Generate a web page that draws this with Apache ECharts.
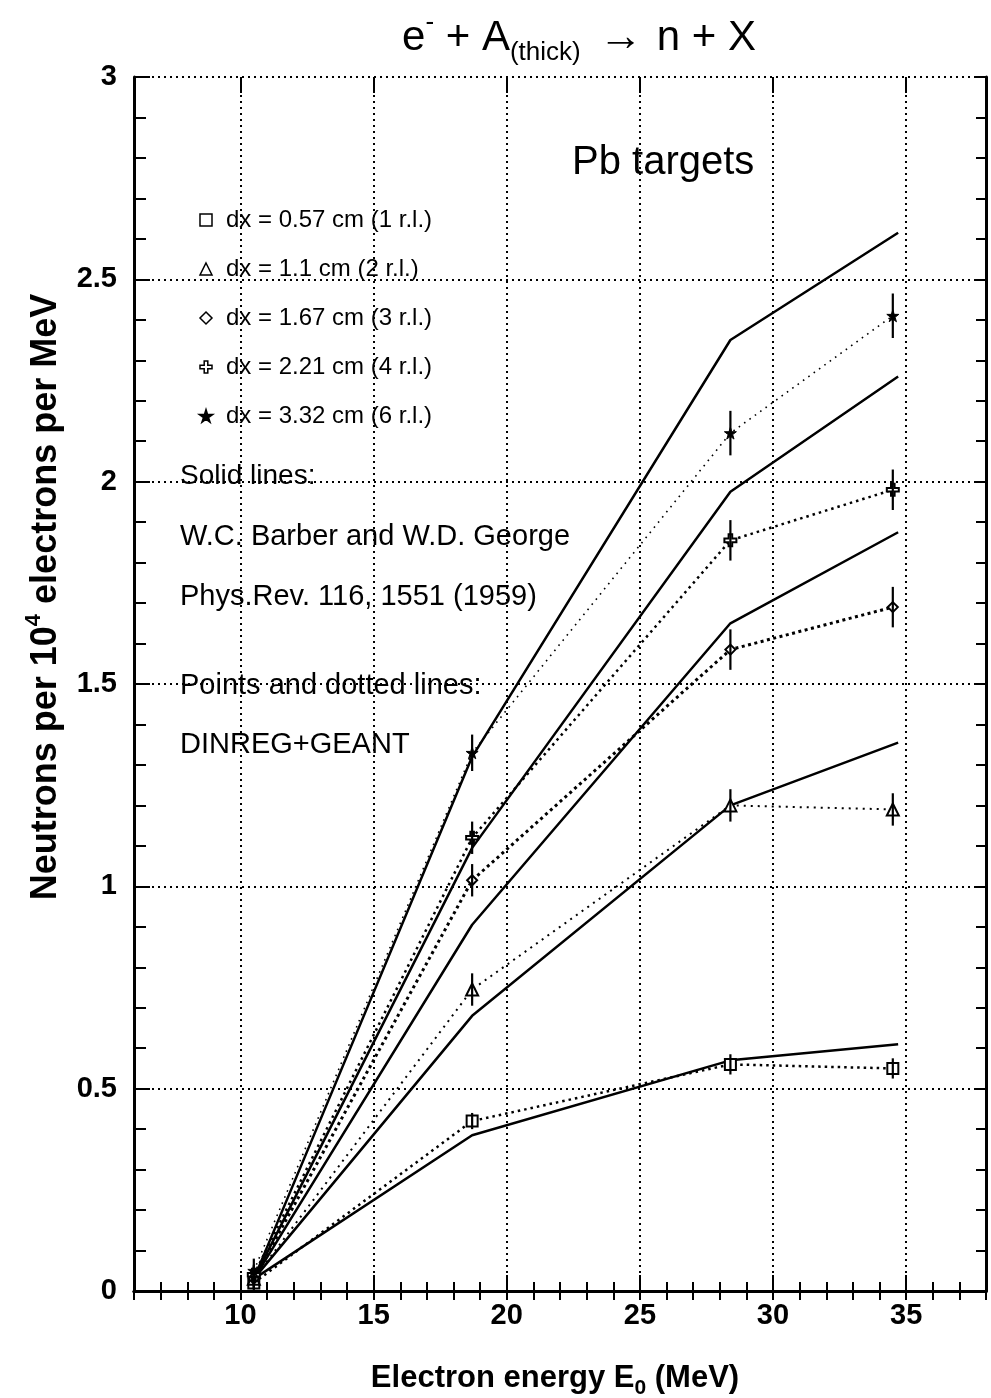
<!DOCTYPE html>
<html><head><meta charset="utf-8">
<script src="https://cdn.jsdelivr.net/npm/echarts@6/dist/echarts.min.js"></script>
<style>html,body{margin:0;padding:0;background:#fff}#c{width:991px;height:1398px}</style>
</head><body><div id="c"></div>
<script>
const FONT = "'Liberation Sans', Arial, Helvetica, sans-serif";

// ---- data ----
const legendNames = ['dx = 0.57 cm (1 r.l.)', 'dx = 1.1 cm (2 r.l.)', 'dx = 1.67 cm (3 r.l.)', 'dx = 2.21 cm (4 r.l.)', 'dx = 3.32 cm (6 r.l.)'];
// DINREG+GEANT points (dotted lines)
const simEnergy = [10.5, 18.7, 28.4, 34.5];
const sim1rl = [0.02, 0.42, 0.56, 0.55];
const sim2rl = [0.03, 0.745, 1.2, 1.19];
const sim3rl = [0.03, 1.015, 1.585, 1.69];
const sim4rl = [0.04, 1.12, 1.855, 1.98];
const sim6rl = [0.05, 1.33, 2.12, 2.41];
const err1rl = [0.01, 0.01, 0.015, 0.015];
const err2rl = [0.015, 0.03, 0.03, 0.03];
const err3rl = [0.015, 0.03, 0.04, 0.04];
const err4rl = [0.015, 0.03, 0.04, 0.04];
const err6rl = [0.02, 0.035, 0.045, 0.045];
// Barber & George (solid lines)
const expEnergy = [10.5, 18.7, 28.4, 34.7];
const exp1rl = [0.03, 0.385, 0.57, 0.61];
const exp2rl = [0.03, 0.68, 1.2, 1.355];
const exp3rl = [0.03, 0.905, 1.65, 1.875];
const exp4rl = [0.03, 1.095, 1.975, 2.26];
const exp6rl = [0.03, 1.32, 2.35, 2.615];
const majorX = [10, 15, 20, 25, 30, 35];

const STAR = 'path://M50,0 L61,35 L98,35 L68,57 L79,91 L50,70 L21,91 L32,57 L2,35 L39,35 Z';
const PLUS = 'path://M35,0 H65 V35 H100 V65 H65 V100 H35 V65 H0 V35 H35 Z';

const zip = (xs, ys) => xs.map((x, i) => [x, ys[i]]);

const solidSets = [exp1rl, exp2rl, exp3rl, exp4rl, exp6rl];
const simSets = [sim1rl, sim2rl, sim3rl, sim4rl, sim6rl];
const errSets = [err1rl, err2rl, err3rl, err4rl, err6rl];
const symbols = ['rect', 'triangle', 'diamond', PLUS, STAR];
const symSizes = [11, 12, 10, 12, 12];
const hollow = [true, true, true, true, false];
const dotStyles = [
  {width: 2.5, type: [2.5, 4]},
  {width: 2, type: [2, 5]},
  {width: 3, type: [3, 3.5]},
  {width: 2.5, type: [2.5, 4]},
  {width: 1.6, type: [1.6, 5]}
];

const series = [];
solidSets.forEach(s => {
  series.push({type: 'line', data: zip(expEnergy, s), symbol: 'none', silent: true,
    lineStyle: {color: '#000', width: 2.5}, z: 3});
});
simSets.forEach((s, i) => {
  series.push({type: 'line', name: legendNames[i], data: zip(simEnergy, s),
    symbol: symbols[i], symbolSize: symSizes[i], showSymbol: true,
    itemStyle: hollow[i] ? {color: '#fff', borderColor: '#000', borderWidth: 2} : {color: '#000', borderColor: '#000', borderWidth: 1},
    lineStyle: Object.assign({color: '#000'}, dotStyles[i]), z: 4});
});
const errData = [];
simSets.forEach((s, i) => s.forEach((v, j) => errData.push([simEnergy[j], v - errSets[i][j] - 0.01, v + errSets[i][j] + 0.01])));
series.push({type: 'custom', data: errData, z: 5, silent: true,
  renderItem: (params, api) => {
    const p1 = api.coord([api.value(0), api.value(1)]);
    const p2 = api.coord([api.value(0), api.value(2)]);
    return {type: 'line', shape: {x1: p1[0], y1: p1[1], x2: p2[0], y2: p2[1]}, style: {stroke: '#000', lineWidth: 2.2}};
  }});

const frame = {show: true, lineStyle: {color: '#000', width: 3}};
const tickStyle = {color: '#000', width: 2};

const option = {
  animation: false,
  backgroundColor: '#fff',
  grid: {left: 134, top: 77, width: 852, height: 1214, containLabel: false, outerBoundsMode: 'none'},
  title: {
    text: '{m|e}{sup|-}{m| + A}{sub|(thick)}{a|\u2192}{m|n + X}',
    left: 574, top: 5, textAlign: 'center',
    textStyle: {fontWeight: 'normal', rich: {
      m: {fontSize: 42, fontFamily: FONT, fontWeight: 'normal', color: '#000', lineHeight: 56},
      a: {fontSize: 44, fontFamily: FONT, fontWeight: 'normal', color: '#000', lineHeight: 56, padding: [0, 14, 0, 18]},
      sup: {fontSize: 26, fontFamily: FONT, fontWeight: 'normal', color: '#000', verticalAlign: 'top'},
      sub: {fontSize: 26, fontFamily: FONT, fontWeight: 'normal', color: '#000', verticalAlign: 'bottom'}
    }}
  },
  legend: {
    orient: 'vertical', left: 194, top: 203, itemWidth: 12, itemHeight: 12, itemGap: 25,
    selectedMode: false,
    textStyle: {fontSize: 24, fontFamily: FONT, color: '#000', lineHeight: 24, padding: [0, 0, 0, 9]},
    data: legendNames.map((n, i) => ({name: n, icon: symbols[i],
      itemStyle: hollow[i] ? {color: '#fff', borderColor: '#000', borderWidth: 1.5} : {color: '#000'}}))
  },
  xAxis: [
    {type: 'value', position: 'bottom', min: 6, max: 38, interval: 1,
      axisLine: frame, axisTick: {inside: true, length: 9, lineStyle: tickStyle},
      axisLabel: {formatter: v => (v % 5 === 0 ? String(v) : ''), fontSize: 29, fontWeight: 'bold', fontFamily: FONT, color: '#000', margin: 10},
      splitLine: {show: false}},
    {type: 'value', position: 'top', min: 6, max: 38, interval: 1,
      axisLine: frame, axisTick: {inside: true, length: 9, lineStyle: tickStyle},
      axisLabel: {show: false}, splitLine: {show: false}},
    {type: 'value', position: 'bottom', min: 6, max: 38,
      axisLine: {show: false}, axisTick: {inside: true, length: 16, lineStyle: tickStyle, customValues: majorX},
      axisLabel: {show: false, customValues: majorX},
      splitLine: {show: true, lineStyle: {color: '#000', width: 2, type: [2, 4]}}},
    {type: 'value', position: 'top', min: 6, max: 38,
      axisLine: {show: false}, axisTick: {inside: true, length: 16, lineStyle: tickStyle, customValues: majorX},
      axisLabel: {show: false, customValues: majorX}, splitLine: {show: false}}
  ],
  yAxis: [
    {type: 'value', position: 'left', min: 0, max: 3, interval: 0.5,
      axisLine: frame, axisTick: {inside: true, length: 16, lineStyle: tickStyle},
      minorTick: {show: true, splitNumber: 5, length: 12, lineStyle: tickStyle},
      axisLabel: {fontSize: 29, fontWeight: 'bold', fontFamily: FONT, color: '#000', margin: 17},
      splitLine: {show: true, lineStyle: {color: '#000', width: 2, type: [2, 4]}}},
    {type: 'value', position: 'right', min: 0, max: 3, interval: 0.5,
      axisLine: frame, axisTick: {inside: true, length: 12, lineStyle: tickStyle},
      minorTick: {show: true, splitNumber: 5, length: 10, lineStyle: tickStyle},
      axisLabel: {show: false}, splitLine: {show: false}}
  ],
  graphic: [
    {type: 'text', x: 46, y: 597, rotation: Math.PI / 2,
      style: {text: '{m|Neutrons per 10}{sup|4}{m| electrons per MeV}', align: 'center', verticalAlign: 'middle',
        rich: {
          m: {fontSize: 36, fontWeight: 'bold', fontFamily: FONT, fill: '#000', lineHeight: 46},
          sup: {fontSize: 22, fontWeight: 'bold', fontFamily: FONT, fill: '#000', verticalAlign: 'top'}
        }}},
    {type: 'text', x: 555, y: 1378,
      style: {text: '{m|Electron energy E}{sub|0}{m| (MeV)}', align: 'center', verticalAlign: 'middle',
        rich: {
          m: {fontSize: 31, fontWeight: 'bold', fontFamily: FONT, fill: '#000', lineHeight: 42},
          sub: {fontSize: 21, fontWeight: 'bold', fontFamily: FONT, fill: '#000', verticalAlign: 'bottom'}
        }}},
    {type: 'text', x: 572, y: 163, style: {text: 'Pb targets', fontSize: 40, fontFamily: FONT, fill: '#000', align: 'left', verticalAlign: 'middle'}},
    {type: 'text', x: 180, y: 476, style: {text: 'Solid lines:', fontSize: 28, fontFamily: FONT, fill: '#000', verticalAlign: 'middle'}},
    {type: 'text', x: 180, y: 537, style: {text: 'W.C. Barber and W.D. George', fontSize: 29, fontFamily: FONT, fill: '#000', verticalAlign: 'middle'}},
    {type: 'text', x: 180, y: 597, style: {text: 'Phys.Rev. 116, 1551 (1959)', fontSize: 29, fontFamily: FONT, fill: '#000', verticalAlign: 'middle'}},
    {type: 'text', x: 180, y: 686, style: {text: 'Points and dotted lines:', fontSize: 29, fontFamily: FONT, fill: '#000', verticalAlign: 'middle'}},
    {type: 'text', x: 180, y: 745, style: {text: 'DINREG+GEANT', fontSize: 29, fontFamily: FONT, fill: '#000', verticalAlign: 'middle'}}
  ],
  series: series
};
const chart = echarts.init(document.getElementById('c'), null, {renderer: 'canvas'});
chart.setOption(option);
</script></body></html>
